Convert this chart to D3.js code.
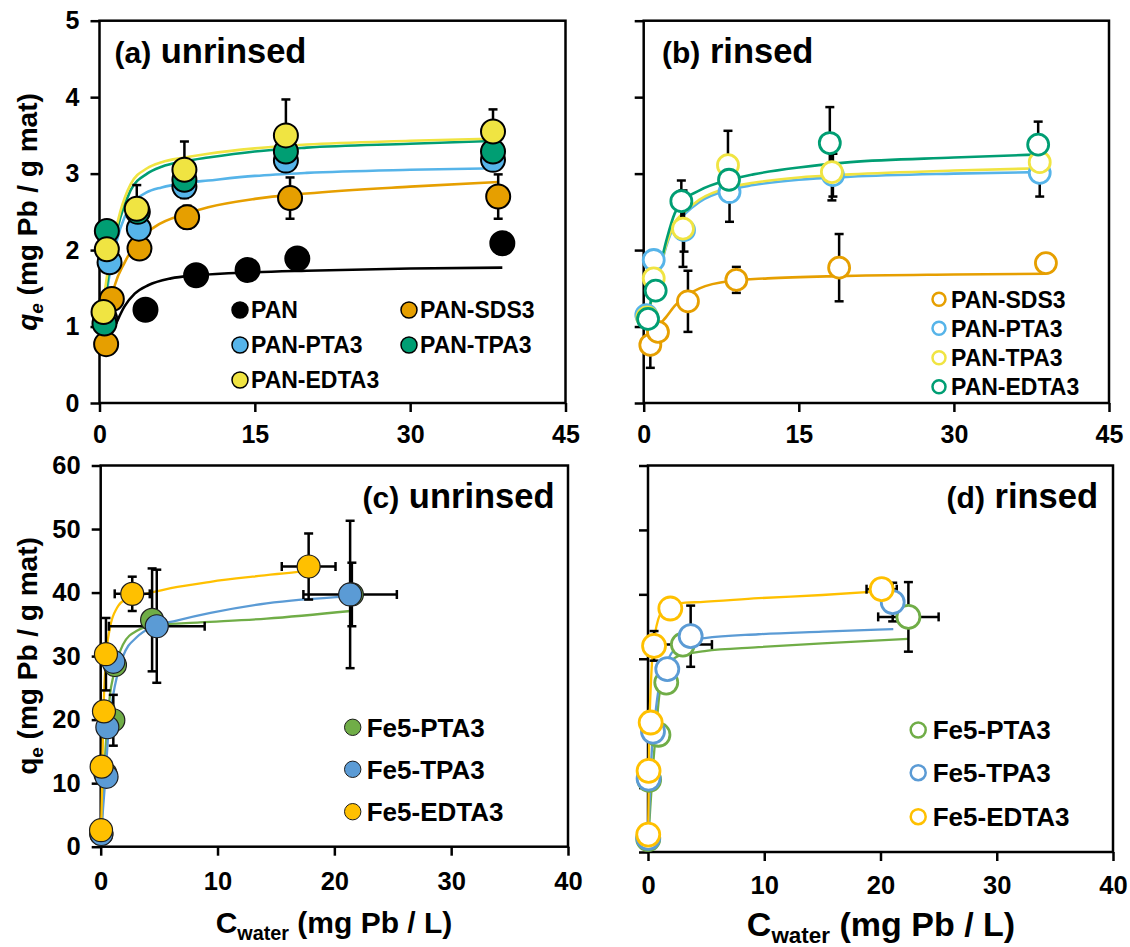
<!DOCTYPE html>
<html><head><meta charset="utf-8">
<script src="https://cdn.jsdelivr.net/npm/d3@7"></script>
<style>
body{margin:0;background:#fff}
svg{display:block}
text{font-family:"Liberation Sans",Arial,Helvetica,sans-serif;font-weight:bold;fill:#000}
</style>
</head><body>
<svg id="chart" width="1130" height="947"></svg>
<script>
// ---------- tick values ----------
const TOP_X_TICKS = [0, 15, 30, 45];
const TOP_Y_TICKS = [0, 1, 2, 3, 4, 5];
const BOT_X_TICKS = [0, 10, 20, 30, 40];
const BOT_Y_TICKS = [0, 10, 20, 30, 40, 50, 60];

// ---------- panel (a) unrinsed : [C_water, q_e] ----------
const A_PAN = [[4.44,1.22],[9.33,1.67],[14.3,1.74],[19.1,1.89],[38.9,2.09]];
const A_PAN_ERR = [0,0,0,0,0];
const A_PAN_FIT = [[0.97,0.85],[1.6,1.04],[2.4,1.26],[3.4,1.43],[4.7,1.54],[6.9,1.63],[9.4,1.67],[15,1.71],[20,1.73],[30,1.76],[38.9,1.77]];
const A_SDS = [[0.64,0.77],[1.19,1.36],[3.86,2.02],[8.46,2.43],[18.4,2.68],[38.5,2.70]];
const A_SDS_ERR = [0,0,0,0.15,0.27,0.29];
const A_SDS_FIT = [[0.64,0.85],[0.9,1.2],[1.5,1.55],[2.4,1.83],[3.5,2.08],[5.3,2.3],[8.5,2.48],[10.5,2.56],[15,2.67],[20,2.74],[30,2.83],[38.5,2.89]];
const A_PTA = [[0.55,1.10],[0.97,1.84],[3.8,2.28],[8.2,2.83],[18.0,3.17],[38.0,3.18]];
const A_PTA_ERR = [0,0,0,0,0,0];
const A_PTA_FIT = [[0.7,1.45],[1,1.7],[2,2.28],[3,2.58],[4.5,2.75],[6,2.82],[8.4,2.88],[10.5,2.91],[15,2.97],[20,3.01],[30,3.05],[38.5,3.07]];
const A_TPA = [[0.48,1.04],[0.71,2.25],[3.7,2.50],[8.2,2.92],[18.0,3.29],[38.0,3.29]];
const A_TPA_ERR = [0,0,0,0,0,0];
const A_TPA_FIT = [[0.5,1.3],[1,1.8],[2,2.42],[3,2.78],[4.6,3.0],[6,3.09],[8.2,3.16],[10.5,3.21],[15,3.29],[20,3.34],[30,3.39],[38.5,3.43]];
const A_EDTA = [[0.39,1.19],[0.71,2.01],[3.6,2.54],[8.2,3.05],[18.0,3.50],[38.0,3.55]];
const A_EDTA_ERR = [0,0,0.31,0.37,0.47,0.29];
const A_EDTA_FIT = [[0.45,1.4],[1,1.9],[2,2.5],[3,2.86],[4.6,3.07],[6,3.15],[8.2,3.21],[10.5,3.26],[15,3.33],[20,3.38],[30,3.43],[38.5,3.46]];

// ---------- panel (b) rinsed ----------
const B_SDS = [[0.64,0.76],[1.38,0.93],[4.28,1.33],[8.96,1.61],[18.9,1.77],[38.9,1.83]];
const B_SDS_ERR = [0.30,0,0.40,0.17,0.44,0];
const B_SDS_FIT = [[0.6,0.82],[1.4,1.0],[2.2,1.13],[3,1.27],[3.8,1.37],[5.4,1.5],[8.6,1.6],[12,1.63],[18.9,1.66],[30,1.68],[38.9,1.69]];
const B_PTA = [[0.25,1.15],[0.97,1.87],[3.9,2.26],[8.3,2.76],[18.3,2.98],[38.3,3.01]];
const B_PTA_ERR = [0,0,0.28,0.39,0.28,0.31];
const B_PTA_FIT = [[0.3,1.0],[0.9,1.46],[1.4,1.66],[2.2,2.06],[3,2.33],[3.8,2.45],[5.4,2.63],[8.3,2.79],[10.6,2.85],[15,2.92],[20,2.96],[30,3.0],[38.3,3.02]];
const B_TPA = [[0.35,1.12],[0.97,1.63],[3.8,2.28],[8.15,3.11],[18.2,3.02],[38.3,3.15]];
const B_TPA_ERR = [0,0,0.5,0.45,0.37,0];
const B_TPA_FIT = [[0.35,1.0],[0.9,1.46],[1.4,1.67],[2.2,2.08],[3,2.36],[3.8,2.48],[5.4,2.66],[8.3,2.82],[10.6,2.88],[15,2.95],[20,2.99],[30,3.04],[38.3,3.07]];
const B_EDTA = [[0.42,1.10],[1.16,1.47],[3.64,2.64],[8.25,2.92],[18.0,3.40],[38.15,3.38]];
const B_EDTA_ERR = [0,0,0.27,0,0.47,0.30];
const B_EDTA_FIT = [[0.3,1.0],[0.9,1.48],[1.4,1.69],[2.2,2.13],[3,2.48],[3.64,2.62],[5.4,2.78],[8.3,2.92],[10.6,2.99],[15,3.08],[20,3.15],[30,3.21],[38.2,3.25]];

// ---------- panel (c) unrinsed Fe5 ----------
const C_PTA = [[0.05,2.0],[0.4,11.5],[1.08,19.9],[1.22,28.6],[4.4,35.7],[21.5,39.7]];
const C_PTA_ERR = [0,0,4.0,0,8.1,5.0];
const C_PTA_XERR = [0,0,0,0,0,0];
const C_PTA_FIT = [[0.03,1.5],[0.3,12],[0.6,20],[0.8,24],[1.1,27],[1.9,31.8],[3.1,34],[4.8,34.9],[8.5,35.3],[14.2,35.9],[21.4,37.1]];
const C_TPA = [[0.06,2.0],[0.5,11.0],[0.57,18.8],[1.08,29.1],[4.8,34.7],[21.35,39.7]];
const C_TPA_ERR = [0,0,0,0,8.9,11.6];
const C_TPA_XERR = [0,0,0,0,4.1,4.0];
const C_TPA_FIT = [[0.03,1.5],[0.2,6],[0.37,10],[0.65,17.8],[1.2,25.2],[1.9,29.9],[3.1,33],[4.4,34.6],[6.5,35.6],[9.4,36.8],[14.2,38.3],[21.3,39.4]];
const C_EDTA = [[0.03,2.6],[0.08,12.6],[0.28,21.3],[0.45,30.3],[2.7,39.8],[17.8,44.1]];
const C_EDTA_ERR = [0,0,0,5.7,2.7,5.2];
const C_EDTA_XERR = [0,0,0,0,1.5,2.3];
const C_EDTA_FIT = [[0.03,2],[0.1,8],[0.22,20],[0.45,29.5],[0.8,34.5],[1.4,37.6],[2.2,39],[3.9,39.8],[6,40.7],[9.4,41.7],[13,42.5],[17.8,43.4]];

// ---------- panel (d) rinsed Fe5 ----------
const D_PTA = [[0.02,2.0],[0.1,11.2],[0.9,18.2],[1.57,26.3],[3.0,32.2],[22.4,36.5]];
const D_PTA_ERR = [0,0,0,0,0,5.4];
const D_PTA_XERR = [0,0,0,0,2.5,2.6];
const D_PTA_FIT = [[0,1],[0.2,7],[0.43,13.2],[0.72,19.5],[1.0,24.7],[1.58,28.3],[2.58,30.4],[4.88,31.2],[9.5,31.8],[15,32.4],[22.4,33.1]];
const D_TPA = [[0.02,2.2],[0.05,11.4],[0.43,18.7],[1.66,28.4],[3.67,33.5],[21.05,38.8]];
const D_TPA_ERR = [0,0,0,0,4.75,3.0];
const D_TPA_XERR = [0,0,0,0,0,0];
const D_TPA_FIT = [[0,1],[0.1,6],[0.28,14.3],[0.55,20],[0.86,24.7],[1.72,29.9],[2.87,32.2],[4.88,33.2],[9.5,33.8],[15,34.2],[21.1,34.6]];
const D_EDTA = [[0.02,2.7],[0.05,12.6],[0.23,20.1],[0.52,32.0],[1.92,37.8],[20.1,40.8]];
const D_EDTA_ERR = [0,0,0,2.3,0,1.2];
const D_EDTA_XERR = [0,0,0,0,0,1.3];
const D_EDTA_FIT = [[0,1],[0.05,8],[0.09,16.4],[0.28,27.3],[0.5,32.5],[0.72,35],[1.44,37.9],[3.2,38.7],[4.5,38.8],[9.5,39.4],[15,39.9],[20.1,40.5]];

// ---------- colours ----------
const OI = {black:"#000000", orange:"#E69F00", sky:"#56B4E9", green:"#009E73", yellow:"#F0E442"};
const XL = {green:"#70AD47", blue:"#5B9BD5", gold:"#FFC000"};

const svg = d3.select("#chart");
const FONT = '"Liberation Sans",Arial,Helvetica,sans-serif';

function drawPanel(o) {
  const g = svg.append("g");
  const x = d3.scaleLinear().domain(o.xDomain).range([o.left, o.right]);
  const y = d3.scaleLinear().domain(o.yDomain).range([o.bottom, o.top]);

  // axes
  const xa = d3.axisBottom(x).tickValues(o.xTicks).tickSize(9).tickSizeOuter(0).tickPadding(o.xPad).tickFormat(d3.format("d"));
  const gx = g.append("g").attr("transform", `translate(0,${o.bottom})`).call(xa);
  const ya = d3.axisLeft(y).tickValues(o.yTicks).tickSize(9).tickSizeOuter(0).tickPadding(11)
      .tickFormat(o.yLabels ? d3.format("d") : () => "");
  const gy = g.append("g").attr("transform", `translate(${o.left},0)`).call(ya);
  [gx, gy].forEach(a => {
    a.select(".domain").remove();
    a.selectAll(".tick line").attr("stroke", "#000").attr("stroke-width", 2.5);
    a.selectAll(".tick text").attr("font-family", FONT).attr("font-weight", "bold").attr("font-size", o.tickFont).attr("fill", "#000");
  });
  g.append("rect").attr("x", o.left).attr("y", o.top).attr("width", o.right - o.left).attr("height", o.bottom - o.top)
    .attr("fill", "none").attr("stroke", "#000").attr("stroke-width", 2.5);

  // fit lines
  const line = d3.line().x(d => x(d[0])).y(d => y(d[1])).curve(d3.curveMonotoneX);
  o.series.forEach(s => {
    g.append("path").attr("d", line(s.fit)).attr("fill", "none").attr("stroke", s.color).attr("stroke-width", o.lineW);
  });

  // error bars
  const cap = 4.5;
  o.series.forEach(s => {
    s.pts.forEach((p, i) => {
      const e = s.err ? s.err[i] : 0, xe = s.xerr ? s.xerr[i] : 0;
      if (e > 0) {
        const cx = x(p[0]), t = y(p[1] + e), b = y(p[1] - e);
        g.append("line").attr("x1", cx).attr("x2", cx).attr("y1", t).attr("y2", b).attr("stroke", "#000").attr("stroke-width", 2.5);
        [t, b].forEach(v => g.append("line").attr("x1", cx - cap).attr("x2", cx + cap).attr("y1", v).attr("y2", v).attr("stroke", "#000").attr("stroke-width", 2.5));
      }
      if (xe > 0) {
        const cy = y(p[1]), l = x(p[0] - xe), r = x(p[0] + xe);
        g.append("line").attr("x1", l).attr("x2", r).attr("y1", cy).attr("y2", cy).attr("stroke", "#000").attr("stroke-width", 2.5);
        [l, r].forEach(v => g.append("line").attr("x1", v).attr("x2", v).attr("y1", cy - cap).attr("y2", cy + cap).attr("stroke", "#000").attr("stroke-width", 2.5));
      }
    });
  });

  // markers
  o.series.forEach(s => {
    g.selectAll(null).data(s.pts).enter().append("circle")
      .attr("cx", d => x(d[0])).attr("cy", d => y(d[1])).attr("r", o.r)
      .attr("fill", o.hollow ? "#fff" : s.color)
      .attr("stroke", o.hollow ? s.color : o.mStroke)
      .attr("stroke-width", o.mStrokeW);
  });

  // legend
  o.legend.items.forEach((it, i) => {
    const s = o.series[it.idx];
    const lx = o.legend.pos[i][0], ly = o.legend.pos[i][1];
    g.append("circle").attr("cx", lx).attr("cy", ly).attr("r", o.legend.r)
      .attr("fill", o.hollow ? "#fff" : s.color)
      .attr("stroke", o.hollow ? s.color : o.mStroke)
      .attr("stroke-width", o.hollow ? 2.5 : o.legend.sw);
    g.append("text").attr("x", lx + o.legend.dx).attr("y", ly).attr("dy", "0.36em")
      .attr("font-size", o.legend.font).text(s.name);
  });

  // panel label
  const lab = g.append("text").attr("x", o.label.x).attr("y", o.label.y).attr("text-anchor", o.label.anchor);
  lab.append("tspan").attr("font-size", 30).text(o.label.tag);
  lab.append("tspan").attr("font-size", 34.5).text(" " + o.label.word);
  return {x, y};
}

// ---------- panel (a) ----------
drawPanel({
  left: 99.5, right: 565.5, top: 20.7, bottom: 403,
  xDomain: [0, 45], yDomain: [0, 5], xTicks: TOP_X_TICKS, yTicks: TOP_Y_TICKS, yLabels: true,
  xPad: 13, tickFont: 25, lineW: 2.6, r: 12, hollow: false, mStroke: "#000", mStrokeW: 2,
  series: [
    {name: "PAN", pts: A_PAN, err: A_PAN_ERR, fit: A_PAN_FIT, color: OI.black},
    {name: "PAN-SDS3", pts: A_SDS, err: A_SDS_ERR, fit: A_SDS_FIT, color: OI.orange},
    {name: "PAN-PTA3", pts: A_PTA, err: A_PTA_ERR, fit: A_PTA_FIT, color: OI.sky},
    {name: "PAN-TPA3", pts: A_TPA, err: A_TPA_ERR, fit: A_TPA_FIT, color: OI.green},
    {name: "PAN-EDTA3", pts: A_EDTA, err: A_EDTA_ERR, fit: A_EDTA_FIT, color: OI.yellow}
  ],
  legend: {items: [{idx:0},{idx:1},{idx:2},{idx:3},{idx:4}],
    pos: [[240,310],[409,310],[240,345],[409,345],[240,380]], r: 8, sw: 1.5, dx: 11, font: 23},
  label: {x: 114.5, y: 63, anchor: "start", tag: "(a)", word: "unrinsed"}
});

// ---------- panel (b) ----------
drawPanel({
  left: 643.7, right: 1109, top: 20.7, bottom: 403,
  xDomain: [0, 45], yDomain: [0, 5], xTicks: TOP_X_TICKS, yTicks: TOP_Y_TICKS, yLabels: false,
  xPad: 13, tickFont: 25, lineW: 2.6, r: 10.5, hollow: true, mStroke: "#000", mStrokeW: 2.8,
  series: [
    {name: "PAN-SDS3", pts: B_SDS, err: B_SDS_ERR, fit: B_SDS_FIT, color: OI.orange},
    {name: "PAN-PTA3", pts: B_PTA, err: B_PTA_ERR, fit: B_PTA_FIT, color: OI.sky},
    {name: "PAN-TPA3", pts: B_TPA, err: B_TPA_ERR, fit: B_TPA_FIT, color: OI.yellow},
    {name: "PAN-EDTA3", pts: B_EDTA, err: B_EDTA_ERR, fit: B_EDTA_FIT, color: OI.green}
  ],
  legend: {items: [{idx:0},{idx:1},{idx:2},{idx:3}],
    pos: [[939,299.3],[939,328.3],[939,357.7],[939,386.7]], r: 6.5, sw: 2.5, dx: 12, font: 23},
  label: {x: 662, y: 63, anchor: "start", tag: "(b)", word: "rinsed"}
});

// ---------- panel (c) ----------
drawPanel({
  left: 100.7, right: 568, top: 465.5, bottom: 846.7,
  xDomain: [0, 40], yDomain: [0, 60], xTicks: BOT_X_TICKS, yTicks: BOT_Y_TICKS, yLabels: true,
  xPad: 16, tickFont: 25.5, lineW: 2.3, r: 11.5, hollow: false, mStroke: "#1e1e1e", mStrokeW: 1.2,
  series: [
    {name: "Fe5-PTA3", pts: C_PTA, err: C_PTA_ERR, xerr: C_PTA_XERR, fit: C_PTA_FIT, color: XL.green},
    {name: "Fe5-TPA3", pts: C_TPA, err: C_TPA_ERR, xerr: C_TPA_XERR, fit: C_TPA_FIT, color: XL.blue},
    {name: "Fe5-EDTA3", pts: C_EDTA, err: C_EDTA_ERR, xerr: C_EDTA_XERR, fit: C_EDTA_FIT, color: XL.gold}
  ],
  legend: {items: [{idx:0},{idx:1},{idx:2}],
    pos: [[352.7,727.3],[352.7,769.3],[352.7,811.7]], r: 8.2, sw: 1, dx: 14, font: 26},
  label: {x: 554.5, y: 508, anchor: "end", tag: "(c)", word: "unrinsed"}
});

// ---------- panel (d) ----------
drawPanel({
  left: 648, right: 1113, top: 465.5, bottom: 852,
  xDomain: [0, 40], yDomain: [0, 60], xTicks: BOT_X_TICKS, yTicks: BOT_Y_TICKS, yLabels: false,
  xPad: 15, tickFont: 25.5, lineW: 2.3, r: 11.5, hollow: true, mStroke: "#000", mStrokeW: 2.8,
  series: [
    {name: "Fe5-PTA3", pts: D_PTA, err: D_PTA_ERR, xerr: D_PTA_XERR, fit: D_PTA_FIT, color: XL.green},
    {name: "Fe5-TPA3", pts: D_TPA, err: D_TPA_ERR, xerr: D_TPA_XERR, fit: D_TPA_FIT, color: XL.blue},
    {name: "Fe5-EDTA3", pts: D_EDTA, err: D_EDTA_ERR, xerr: D_EDTA_XERR, fit: D_EDTA_FIT, color: XL.gold}
  ],
  legend: {items: [{idx:0},{idx:1},{idx:2}],
    pos: [[918.2,730],[918.2,772.7],[918.2,816.7]], r: 7.5, sw: 2.5, dx: 14.5, font: 26},
  label: {x: 1098, y: 508, anchor: "end", tag: "(d)", word: "rinsed"}
});

// ---------- axis titles ----------
function yTitle(cx, cy, italic) {
  const t = svg.append("text").attr("transform", `translate(${cx},${cy}) rotate(-90)`)
    .attr("text-anchor", "middle").attr("font-size", 28);
  t.append("tspan").attr("font-style", italic ? "italic" : "normal").text("q");
  t.append("tspan").attr("font-style", italic ? "italic" : "normal").attr("font-size", 19).attr("dy", 6).text("e");
  t.append("tspan").attr("dy", -6).text(" (mg Pb / g mat)");
}
yTitle(37, 212, true);
yTitle(37, 656, false);

function xTitle(cx, by, size) {
  const t = svg.append("text").attr("x", cx).attr("y", by).attr("text-anchor", "middle").attr("font-size", size);
  t.append("tspan").text("C");
  t.append("tspan").attr("font-size", size * 0.66).attr("dy", size * 0.22).text("water");
  t.append("tspan").attr("dy", -size * 0.22).text(" (mg Pb / L)");
}
xTitle(334, 933, 30);
xTitle(881, 936, 34);
</script>
</body></html>
